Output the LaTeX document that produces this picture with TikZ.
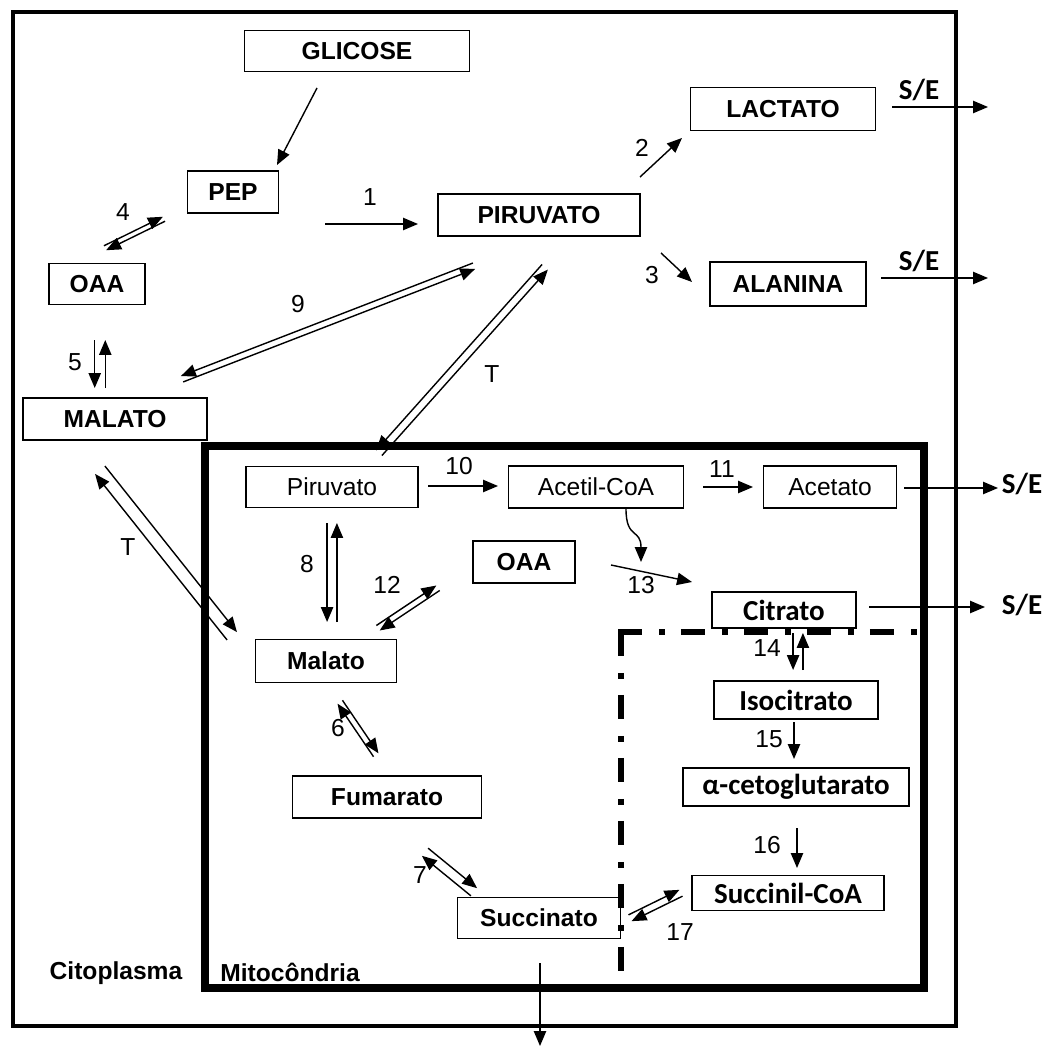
\documentclass[tikz,border=0pt]{standalone}
\usepackage{fontspec}
\setmainfont{Liberation Sans}
\newfontfamily\calibrifont{Carlito}
\usetikzlibrary{arrows.meta,calc}

% two parallel arrows, one each way
\newcommand{\revarrow}[3][1.8pt]{%
  \draw[rxn] ($(#2)!#1!90:(#3)$) -- ($(#3)!#1!-90:(#2)$);
  \draw[rxn] ($(#3)!#1!90:(#2)$) -- ($(#2)!#1!-90:(#3)$);
}

\tikzset{
  box/.style={draw, line width=0.8pt, inner sep=0pt, font=\fontsize{14}{16}\selectfont\bfseries},
  thinbox/.style={box, font=\fontsize{14}{16}\selectfont},
  calbox/.style={box, font=\fontsize{16.5}{18}\selectfont\calibrifont\bfseries},
  wh/.style 2 args={minimum width=#1cm, minimum height=#2cm},
  rxn/.style={line width=0.8pt, -{Triangle[length=8.5pt,width=7pt]}},
  num/.style={inner sep=0pt, font=\fontsize{14}{16}\selectfont},
  se/.style={inner sep=0pt, font=\fontsize{16.5}{18}\selectfont\calibrifont\bfseries},
  region/.style={inner sep=0pt, font=\fontsize{14}{16}\selectfont\bfseries},
  cellwall/.style={line width=2.6pt},
  membrane/.style={line width=4.2pt},
  tcaline/.style={line width=3.7pt, dash pattern=on 0.48cm off 0.34cm on 0.12cm off 0.32cm}
}

\begin{document}
\begin{tikzpicture}[x=0.02cm, y=-0.02cm]
\useasboundingbox (0,0) rectangle (1047,1047);

% compartments
\draw[cellwall] (13,12) rectangle (956,1026);
\draw[membrane] (205,446) rectangle (924,988);
\draw[tcaline] (621,632) -- (621,975);
\draw[tcaline] (618,632) -- (921,632);

% citoplasma
\node[box, wh={4.5}{0.82}] (glicose) at (357,51) {GLICOSE};
\node[box, wh={1.82}{0.84}] (pep) at (233,192) {PEP};
\node[box, wh={1.92}{0.82}] (oaa) at (97,284) {OAA};
\node[box, wh={4.04}{0.84}] (piruvato) at (539,215) {PIRUVATO};
\node[box, wh={3.7}{0.86}] (lactato) at (783,109) {LACTATO};
\node[box, wh={3.12}{0.88}] (alanina) at (788,284) {ALANINA};
\node[box, wh={3.68}{0.84}] (malato) at (115,419) {MALATO};

% mitocondria
\node[thinbox, wh={3.44}{0.82}] (piruvatoM) at (332,487) {Piruvato};
\node[thinbox, wh={3.5}{0.84}] (acetilcoa) at (596,487) {Acetil-CoA};
\node[thinbox, wh={2.66}{0.84}] (acetato) at (830,487) {Acetato};
\node[box, wh={2.04}{0.84}] (oaaM) at (524,562) {OAA};
\node[box, wh={2.82}{0.86}] (malatoM) at (326,661) {Malato};
\node[box, wh={3.78}{0.84}] (fumarato) at (387,797) {Fumarato};
\node[box, wh={3.26}{0.82}] (succinato) at (539,918) {Succinato};
\node[calbox, wh={2.88}{0.72}] (citrato) at (784,610) {Citrato};
\node[calbox, wh={3.28}{0.76}] (isocitrato) at (796,700) {Isocitrato};
\node[calbox, wh={4.52}{0.76}] (cetoglutarato) at (796,787) {α-cetoglutarato};
\node[calbox, wh={3.84}{0.70}] (succinilcoa) at (788,893) {Succinil-CoA};

\node[region] (cito) at (116,973) {Citoplasma};
\node[region] (mito) at (290,972) {Mitocôndria};

% reaction numbers
\node[num] (n1) at (370,197) {1};
\node[num] (n2) at (642,148) {2};
\node[num] (n3) at (652,275) {3};
\node[num] (n4) at (123,212) {4};
\node[num] (n5) at (75,362) {5};
\node[num] (n6) at (338,728) {6};
\node[num] (n7) at (420,875) {7};
\node[num] (n8) at (307,564) {8};
\node[num] (n9) at (298,304) {9};
\node[num] (n10) at (459,466) {10};
\node[num] (n11) at (722,469) {11};
\node[num] (n12) at (387,585) {12};
\node[num] (n13) at (641,585) {13};
\node[num] (n14) at (767,648) {14};
\node[num] (n15) at (769,739) {15};
\node[num] (n16) at (767,845) {16};
\node[num] (n17) at (680,932) {17};
\node[num] (tA) at (492,374) {T};
\node[num] (tB) at (128,547) {T};

\node[se] (se1) at (919,90) {S/E};
\node[se] (se2) at (919,261) {S/E};
\node[se] (se3) at (1022,484) {S/E};
\node[se] (se4) at (1022,605) {S/E};

% arrow ends
\coordinate (g1) at (317,88);    \coordinate (g2) at (277,165);
\coordinate (r1a) at (325,224);  \coordinate (r1b) at (418,224);
\coordinate (r2a) at (640,177);  \coordinate (r2b) at (682,138);
\coordinate (r3a) at (661,253);  \coordinate (r3b) at (692,282);
\coordinate (r10a) at (428,486); \coordinate (r10b) at (498,486);
\coordinate (r11a) at (703,487); \coordinate (r11b) at (753,487);
\coordinate (r13a) at (611,565); \coordinate (r13b) at (692,582);
\coordinate (r13c) at (641,562);
\coordinate (r15a) at (794,722); \coordinate (r15b) at (794,759);
\coordinate (r16a) at (797,828); \coordinate (r16b) at (797,868);
\coordinate (r18a) at (540,963); \coordinate (r18b) at (540,1046);
\coordinate (se1a) at (892,107); \coordinate (se1b) at (988,107);
\coordinate (se2a) at (881,278); \coordinate (se2b) at (988,278);
\coordinate (se3a) at (904,488); \coordinate (se3b) at (998,488);
\coordinate (se4a) at (869,607); \coordinate (se4b) at (985,607);

\coordinate (r4a) at (105,248);  \coordinate (r4b) at (164,219);
\coordinate (r5a) at (100,340);  \coordinate (r5b) at (100,388);
\coordinate (r9a) at (182,379);  \coordinate (r9b) at (474,266);
\coordinate (tAa) at (379,453);  \coordinate (tAb) at (545,267);
\coordinate (tBa) at (100,470);  \coordinate (tBb) at (232,636);
\coordinate (r8a) at (332,523);  \coordinate (r8b) at (332,622);
\coordinate (r12a) at (378,628); \coordinate (r12b) at (438,588);
\coordinate (r6a) at (340,702);  \coordinate (r6b) at (376,755);
\coordinate (r7a) at (425,852);  \coordinate (r7b) at (474,892);
\coordinate (r14a) at (798,633); \coordinate (r14b) at (798,670);
\coordinate (r17a) at (630,918); \coordinate (r17b) at (681,893);

% one way
\draw[rxn] (g1) -- (g2);
\draw[rxn] (r1a) -- (r1b);
\draw[rxn] (r2a) -- (r2b);
\draw[rxn] (r3a) -- (r3b);
\draw[rxn] (r10a) -- (r10b);
\draw[rxn] (r11a) -- (r11b);
\draw[rxn] (r13a) -- (r13b);
\draw[rxn] ([xshift=0.6cm]acetilcoa.south) .. controls (626,540) and (641,528) .. (r13c);
\draw[rxn] (r15a) -- (r15b);
\draw[rxn] (r16a) -- (r16b);
\draw[rxn] (r18a) -- (r18b);
\draw[rxn] (se1a) -- (se1b);
\draw[rxn] (se2a) -- (se2b);
\draw[rxn] (se3a) -- (se3b);
\draw[rxn] (se4a) -- (se4b);

% both ways
\revarrow[1.4pt]{r4a}{r4b}
\revarrow[-3pt]{r5a}{r5b}
\revarrow[-1.8pt]{r9a}{r9b}
\revarrow[-2.2pt]{tAa}{tAb}
\revarrow[3.6pt]{tBa}{tBb}
\revarrow[-2.8pt]{r8a}{r8b}
\revarrow[1.7pt]{r12a}{r12b}
\revarrow[1.7pt]{r6a}{r6b}
\revarrow[2.8pt]{r7a}{r7b}
\revarrow[-2.8pt]{r14a}{r14b}
\revarrow[2pt]{r17a}{r17b}

\end{tikzpicture}
\end{document}
